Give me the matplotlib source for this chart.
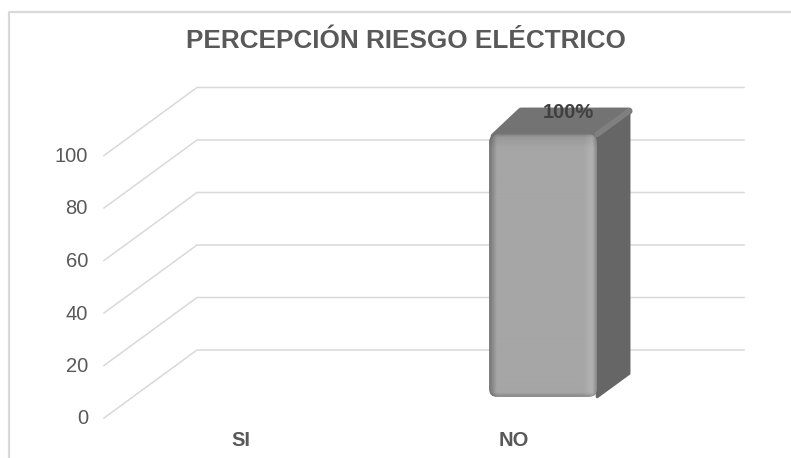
import numpy as np
import matplotlib.pyplot as plt
from matplotlib.lines import Line2D
from matplotlib.patches import FancyBboxPatch, Polygon

categories = ['SI', 'NO']
values = [0, 100]
value_labels = ['', '100%']
y_ticks = [0, 20, 40, 60, 80, 100]

W, H = 791, 458
GREY = '#595959'
plt.rcParams['font.family'] = ['Liberation Sans', 'DejaVu Sans']

fig = plt.figure(figsize=(W / 100, H / 100), dpi=100)


def fx(px):
    return px / W


def fy(py):
    return 1 - py / H


# front plane of the 3d box, in pixels of the figure
left, right, bottom, top = 104, 651, 418, 155.5
ax = fig.add_axes([fx(left), fy(bottom), (right - left) / W, (bottom - top) / H])
ax.set_xlim(0, len(categories))
ax.set_ylim(0, 100)
ax.axis('off')

# how far the back wall is shifted, in data units
unit_x = (right - left) / len(categories)
unit_y = (bottom - top) / 100
depth_x = 93 / unit_x
depth_y = 68 / unit_y


def proj(x, y, d):
    return x + d * depth_x, y + d * depth_y


# chart border (only top and left show, the picture is cropped)
fig.add_artist(Line2D([fx(9), fx(9), fx(W)], [0, fy(12), fy(12)], color='#d9d9d9', lw=1.6))

# gridlines: slanted floor part + back wall part
for t in y_ticks:
    p0 = proj(0, t, 0)
    p1 = proj(0, t, 1)
    p2 = proj(len(categories), t, 1)
    ax.plot([p0[0], p1[0], p2[0]], [p0[1], p1[1], p2[1]], color='#d9d9d9', lw=1.1,
            clip_on=False, zorder=1)
    ax.text(-16 / unit_x, t - 1 / unit_y, str(t), ha='right', va='center', fontsize=14.5,
            color=GREY)

# bars
bar_w = 108 / unit_x
d_front, d_back = 0.31, 0.654
for i, (cat, val, lab) in enumerate(zip(categories, values, value_labels)):
    c = i + 0.5
    ax.text(c, -23 / unit_y, cat, ha='center', va='center', fontsize=14.5, fontweight='bold',
            color=GREY)
    if val == 0:
        continue
    x0 = c - bar_w / 2
    x1 = c + bar_w / 2
    a = proj(x0, val, d_front)
    b = proj(x1, val, d_front)
    b_back = proj(x1, val, d_back)
    a_back = proj(x0, val, d_back)
    b_low = proj(x1, 0, d_front)
    b_low_back = proj(x1, 0, d_back)

    # inset the left corner a little so the wide round edge stays behind the front face
    a_in = (a[0] + 5 / unit_x, a[1] - 2 / unit_y)
    ax.add_patch(Polygon([a_in, a_back, b_back, b], closed=True, fc='#737373', ec='#737373',
                         lw=5, joinstyle='round', clip_on=False, zorder=3))
    ax.add_patch(Polygon([b, b_back, b_low_back, b_low], closed=True, fc='#666666', ec='#666666',
                         lw=2, joinstyle='round', clip_on=False, zorder=3))
    ax.plot([b[0], b_back[0]], [b[1], b_back[1]], color='#808080', lw=4, clip_on=False,
            solid_capstyle='round', zorder=3)

    # front face with bevel shading
    xs = np.linspace(0, 1, 108)
    ys = np.linspace(0, 1, 262)
    hor = np.interp(xs, [0, 0.02, 0.07, 0.88, 0.96, 1], [118, 130, 166, 166, 178, 140])
    ver = np.interp(ys, [0, 0.012, 0.05, 0.985, 1], [-32, -12, 0, 0, -30])
    shade = np.clip(hor[None, :] + ver[:, None], 0, 255) / 255
    low = proj(x0, 0, d_front)
    im = ax.imshow(shade, cmap='gray', vmin=0, vmax=1, aspect='auto', zorder=4,
                   extent=[a[0], b[0], low[1], a[1]], origin='upper')
    clip = FancyBboxPatch((a[0], low[1]), b[0] - a[0], a[1] - low[1],
                          boxstyle='round,pad=0,rounding_size=%f' % (8 / unit_x),
                          mutation_aspect=unit_x / unit_y, transform=ax.transData,
                          fc='none', ec='none')
    ax.add_patch(clip)
    im.set_clip_box(fig.bbox)
    im.set_clip_path(clip)

    label_pos = proj(c, val, (d_front + d_back) / 2)
    ax.annotate(lab, label_pos, xytext=(9, 10.5), textcoords='offset pixels', ha='center',
                va='center', fontsize=14.5, fontweight='bold', color='#404040', zorder=6,
                annotation_clip=False)

ax.set_xlim(0, len(categories))
ax.set_ylim(0, 100)

fig.text(fx(405.5), fy(41), 'PERCEPCIÓN RIESGO ELÉCTRICO', ha='center', va='center',
         fontsize=18.85, fontweight='bold', color=GREY)

fig.savefig('out.png', dpi=100)
